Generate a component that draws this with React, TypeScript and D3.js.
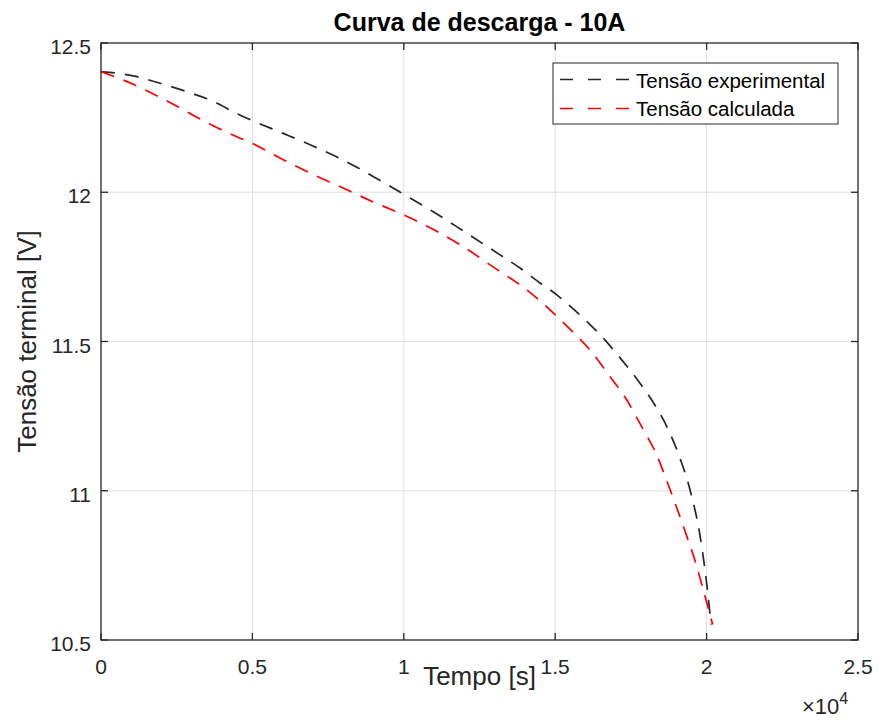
import React from "react";
import * as d3 from "d3";

const xTicks = [0, 0.5, 1, 1.5, 2, 2.5];
const yTicks = [10.5, 11, 11.5, 12, 12.5];

const expTime = [0, 1067, 1948, 2830, 3655, 4480, 5000, 6000, 7000, 8000, 9000, 10000, 11000, 12000, 13166, 13826, 14483, 15033, 15363, 15910, 16570, 17177, 17780, 18275, 18770, 19100, 19486, 19760, 19925, 20033, 20145];
const expVolt = [12.404, 12.39, 12.365, 12.337, 12.307, 12.264, 12.24, 12.198, 12.155, 12.108, 12.052, 11.993, 11.933, 11.868, 11.791, 11.747, 11.697, 11.658, 11.63, 11.58, 11.513, 11.441, 11.363, 11.29, 11.197, 11.115, 10.99, 10.863, 10.752, 10.663, 10.552];

const calcTime = [0, 1123, 2005, 2830, 3656, 4482, 4987, 6000, 7000, 8000, 9000, 10000, 11000, 12000, 13166, 13826, 14373, 14977, 15580, 16130, 16790, 17340, 17890, 18330, 18660, 18990, 19320, 19650, 19870, 20200];
const calcVolt = [12.404, 12.359, 12.315, 12.27, 12.225, 12.186, 12.164, 12.11, 12.06, 12.014, 11.967, 11.924, 11.874, 11.815, 11.735, 11.691, 11.647, 11.592, 11.532, 11.474, 11.385, 11.308, 11.208, 11.125, 11.04, 10.95, 10.855, 10.755, 10.675, 10.552];

const seriesNames = ["Tensão experimental", "Tensão calculada"];
const seriesColors = ["#262626", "#ff0000"];

const W = 879, H = 720;
const L = 101, R = 858, T = 43, B = 640;
const font = "'Liberation Sans', Arial, Helvetica, sans-serif";

export default function App() {
  const x = d3.scaleLinear().domain([0, 25000]).range([L, R]);
  const y = d3.scaleLinear().domain([10.5, 12.5]).range([B, T]);
  const line = d3
    .line<[number, number]>()
    .x((d) => x(d[0]))
    .y((d) => y(d[1]))
    .curve(d3.curveMonotoneX);
  const expPts = expTime.map((t, i) => [t, expVolt[i]] as [number, number]);
  const calcPts = calcTime.map((t, i) => [t, calcVolt[i]] as [number, number]);
  const series = [expPts, calcPts];
  const axisColor = "#262626";
  const gridColor = "#dfdfdf";

  return (
    <svg width={W} height={H} style={{ position: "absolute", left: 0, top: 0, background: "#fff" }}>
      <rect x={0} y={0} width={W} height={H} fill="#fff" />
      {xTicks.slice(1, -1).map((t) => (
        <line key={"gx" + t} x1={x(t * 10000)} x2={x(t * 10000)} y1={T} y2={B} stroke={gridColor} strokeWidth={1} />
      ))}
      {yTicks.slice(1, -1).map((t) => (
        <line key={"gy" + t} x1={L} x2={R} y1={y(t)} y2={y(t)} stroke={gridColor} strokeWidth={1} />
      ))}
      {series.map((pts, i) => (
        <path key={"s" + i} d={line(pts) || ""} fill="none" stroke={seriesColors[i]} strokeWidth={1.7} strokeDasharray="14,10" />
      ))}
      <rect x={L} y={T} width={R - L} height={B - T} fill="none" stroke={axisColor} strokeWidth={1.3} />
      {xTicks.map((t) => (
        <g key={"tx" + t}>
          <line x1={x(t * 10000)} x2={x(t * 10000)} y1={B} y2={B - 7} stroke={axisColor} strokeWidth={1.3} />
          <line x1={x(t * 10000)} x2={x(t * 10000)} y1={T} y2={T + 7} stroke={axisColor} strokeWidth={1.3} />
          <text x={x(t * 10000)} y={B + 34} textAnchor="middle" fontFamily={font} fontSize={21} fill={axisColor}>
            {t}
          </text>
        </g>
      ))}
      {yTicks.map((t) => (
        <g key={"ty" + t}>
          <line x1={L} x2={L + 7} y1={y(t)} y2={y(t)} stroke={axisColor} strokeWidth={1.3} />
          <line x1={R} x2={R - 7} y1={y(t)} y2={y(t)} stroke={axisColor} strokeWidth={1.3} />
          <text x={L - 10} y={y(t) + 11} textAnchor="end" fontFamily={font} fontSize={21} fill={axisColor}>
            {t}
          </text>
        </g>
      ))}
      <text x={802} y={714} fontFamily={font} fontSize={22} fill={axisColor}>
        ×10<tspan dy={-10} fontSize={16}>4</tspan>
      </text>
      <text x={(L + R) / 2} y={685} textAnchor="middle" fontFamily={font} fontSize={26} fill={axisColor}>
        Tempo [s]
      </text>
      <text transform={`translate(36, ${(T + B) / 2}) rotate(-90)`} textAnchor="middle" fontFamily={font} fontSize={26} fill={axisColor}>
        Tensão terminal [V]
      </text>
      <text x={(L + R) / 2} y={31} textAnchor="middle" fontFamily={font} fontSize={25} fontWeight="bold" fill="#000">
        Curva de descarga - 10A
      </text>
      <rect x={553} y={63} width={285} height={61} fill="#fff" stroke={axisColor} strokeWidth={1} />
      {seriesNames.map((n, i) => (
        <g key={"lg" + i}>
          <line x1={560} x2={630} y1={79.5 + i * 29} y2={79.5 + i * 29} stroke={seriesColors[i]} strokeWidth={1.7} strokeDasharray="13,15" />
          <text x={636} y={87.5 + i * 28} fontFamily={font} fontSize={20.5} fill="#000">
            {n}
          </text>
        </g>
      ))}
    </svg>
  );
}
